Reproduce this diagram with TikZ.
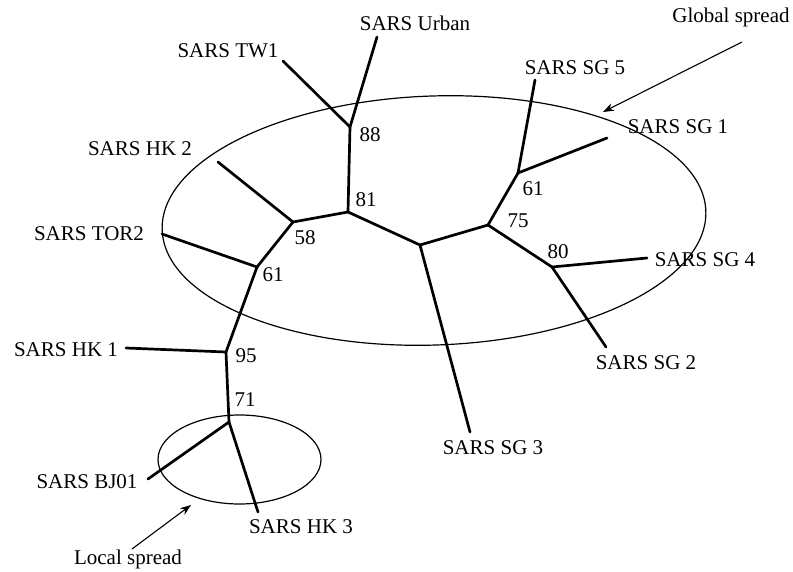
\documentclass[tikz,border=0pt]{standalone}
\usepackage{fontspec}
\setmainfont{Liberation Serif}
\usetikzlibrary{arrows.meta}
\begin{document}
\begin{tikzpicture}[x=1pt,y=1pt,
  branch/.style={line width=2.7pt,line cap=round},
  lbl/.style={inner sep=0pt,font=\fontsize{21}{24}\selectfont},
  boot/.style={inner sep=0pt,font=\fontsize{21}{24}\selectfont},
  ring/.style={line width=1.2pt},
  pointer/.style={line width=1.1pt,-{Stealth[length=11pt,width=8pt]}}]
\useasboundingbox (0,0) rectangle (793,-571);
% internal nodes
\coordinate (n88) at (350,-127);
\coordinate (n81) at (348,-212);
\coordinate (n58) at (293,-222);
\coordinate (n61a) at (257,-267);
\coordinate (n95) at (226,-352);
\coordinate (n71) at (229,-422);
\coordinate (nc) at (420,-245);
\coordinate (n75) at (488,-225);
\coordinate (n61b) at (518,-173);
\coordinate (n80) at (552,-267);
% tips
\coordinate (tTW1) at (283,-61);
\coordinate (tUrban) at (377,-37);
\coordinate (tHK2) at (218,-162);
\coordinate (tTOR2) at (162,-234);
\coordinate (tHK1) at (126,-348);
\coordinate (tBJ01) at (148,-479);
\coordinate (tHK3) at (258,-512);
\coordinate (tSG3) at (470,-432);
\coordinate (tSG2) at (606,-347);
\coordinate (tSG4) at (647,-258);
\coordinate (tSG1) at (607,-138);
\coordinate (tSG5) at (535,-80);
% ellipses
\coordinate (bigc) at (434,-220.5);
\coordinate (smallc) at (239.5,-459.5);
\draw[ring,rotate around={2:(bigc)}] (bigc) ellipse [x radius=272pt,y radius=124.5pt];
\draw[ring] (smallc) ellipse [x radius=81.5pt,y radius=44.5pt];
% branches
\draw[branch] (n88) -- (tTW1);
\draw[branch] (n88) -- (tUrban);
\draw[branch] (n88) -- (n81);
\draw[branch] (n81) -- (n58);
\draw[branch] (n81) -- (nc);
\draw[branch] (n58) -- (tHK2);
\draw[branch] (n58) -- (n61a);
\draw[branch] (n61a) -- (tTOR2);
\draw[branch] (n61a) -- (n95);
\draw[branch] (n95) -- (tHK1);
\draw[branch] (n95) -- (n71);
\draw[branch] (n71) -- (tBJ01);
\draw[branch] (n71) -- (tHK3);
\draw[branch] (nc) -- (tSG3);
\draw[branch] (nc) -- (n75);
\draw[branch] (n75) -- (n61b);
\draw[branch] (n75) -- (n80);
\draw[branch] (n61b) -- (tSG5);
\draw[branch] (n61b) -- (tSG1);
\draw[branch] (n80) -- (tSG4);
\draw[branch] (n80) -- (tSG2);
% labels
\node[lbl] (lTW1) at (228,-51) {SARS TW1};
\node[lbl] (lUrban) at (415,-23) {SARS Urban};
\node[lbl] (lHK2) at (140,-149) {SARS HK 2};
\node[lbl] (lTOR2) at (89,-234) {SARS TOR2};
\node[lbl] (lHK1) at (66,-350) {SARS HK 1};
\node[lbl] (lBJ01) at (87,-482) {SARS BJ01};
\node[lbl] (lHK3) at (301,-527) {SARS HK 3};
\node[lbl] (lSG3) at (493,-448) {SARS SG 3};
\node[lbl] (lSG2) at (646,-363) {SARS SG 2};
\node[lbl] (lSG4) at (705,-260) {SARS SG 4};
\node[lbl] (lSG1) at (678,-127) {SARS SG 1};
\node[lbl] (lSG5) at (575,-68) {SARS SG 5};
\node[lbl] (glob) at (731,-17) {Global spread};
\node[lbl,anchor=base] (loc) at (128,-564) {Local spread};
% bootstrap values
\node[boot] (b88) at (370,-135) {88};
\node[boot] (b81) at (366,-200) {81};
\node[boot] (b58) at (305,-238) {58};
\node[boot] (b61a) at (273,-275) {61};
\node[boot] (b95) at (246,-356) {95};
\node[boot] (b71) at (245,-400) {71};
\node[boot] (b61b) at (533,-189) {61};
\node[boot] (b75) at (518,-221) {75};
\node[boot] (b80) at (558,-252) {80};
% pointers
\coordinate (gtip) at (603,-112);
\coordinate (ltip) at (191,-505);
\draw[pointer] (742,-42) -- (gtip);
\draw[pointer] (132,-549) -- (ltip);
\end{tikzpicture}
\end{document}
